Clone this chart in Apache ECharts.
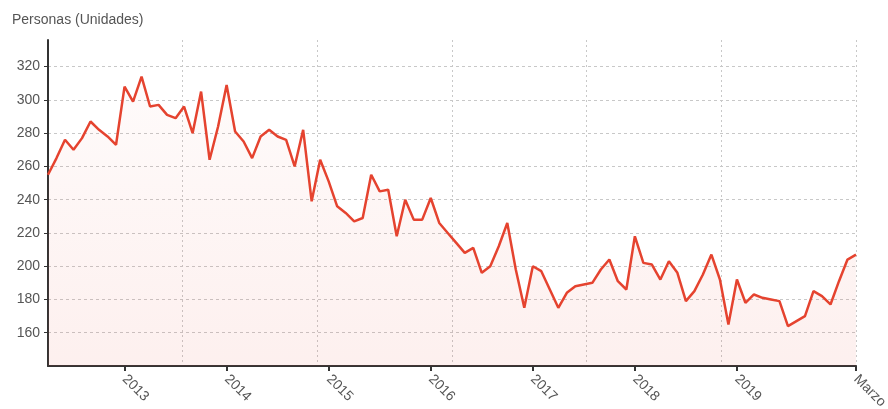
<!DOCTYPE html>
<html>
<head>
<meta charset="utf-8">
<script src="https://cdn.jsdelivr.net/npm/echarts@6/dist/echarts.min.js"></script>
<style>
html,body{margin:0;padding:0;background:#fff;}
#chart{width:888px;height:409px;}
</style>
</head>
<body>
<div id="chart"></div>
<script>
// Monthly series: April 2012 .. March 2020
const startYear = 2012;
const startMonth = 4; // April
const values = [
  255, 265, 276, 270, 277, 287, 282, 278, 273, 308, 299, 314,
  296, 297, 291, 289, 296, 280, 305, 264, 284, 309, 281, 275,
  265, 278, 282, 278, 276, 260, 282, 239, 264, 251, 236, 232,
  227, 229, 255, 245, 246, 218, 240, 228, 228, 241, 226, 220,
  214, 208, 211, 196, 200, 212, 226, 198, 175, 200, 197, 186,
  175, 184, 188, 189, 190, 198, 204, 191, 186, 218, 202, 201,
  192, 203, 196, 179, 185, 195, 207, 192, 165, 192, 178, 183,
  181, 180, 179, 164, 167, 170, 185, 182, 177, 191, 204, 207
];
const yTickValues = [160, 180, 200, 220, 240, 260, 280, 300, 320];
const yearLabels = ['2013', '2014', '2015', '2016', '2017', '2018', '2019'];
const lastLabel = 'Marzo 2020';
const titleText = 'Personas (Unidades)';

const categories = [];
for (let i = 0; i < values.length; i++) {
  const m = (startMonth - 1 + i) % 12 + 1;
  const y = startYear + Math.floor((startMonth - 1 + i) / 12);
  categories.push(y + '-' + (m < 10 ? '0' + m : '' + m));
}
function showIdx(idx) {
  if (idx === categories.length - 1) return true;
  const c = categories[idx];
  return c.endsWith('-01') && yearLabels.indexOf(c.slice(0, 4)) >= 0;
}

const chart = echarts.init(document.getElementById('chart'));
chart.setOption({
  animation: false,
  backgroundColor: '#fff',
  title: {
    text: titleText,
    left: 7, top: 8,
    textStyle: {fontSize: 14, fontWeight: 'normal', color: '#555', fontFamily: 'Liberation Sans, Arial, sans-serif'}
  },
  grid: {left: 48, right: 32, top: 40, bottom: 43, containLabel: false, outerBoundsMode: 'none'},
  xAxis: [{
    type: 'category',
    data: categories,
    boundaryGap: false,
    axisLine: {show: true, lineStyle: {color: '#333', width: 2}},
    axisTick: {show: true, interval: function (idx) { return showIdx(idx); }, length: 5, lineStyle: {color: '#333', width: 2}},
    axisLabel: {
      interval: function (idx) { return showIdx(idx); },
      hideOverlap: false,
      showMaxLabel: true,
      rotate: -45,
      margin: 11,
      color: '#555',
      fontSize: 14,
      fontFamily: 'Liberation Sans, Arial, sans-serif',
      formatter: function (v, idx) {
        if (idx === categories.length - 1) return lastLabel;
        return v.slice(0, 4);
      }
    },
    splitLine: {show: false}
  }, {
    type: 'value',
    min: 0, max: 6, interval: 1,
    position: 'bottom',
    axisLine: {show: false},
    axisTick: {show: false},
    axisLabel: {show: false},
    splitLine: {show: true, lineStyle: {color: '#c8c8c8', type: [2, 3], width: 1}}
  }],
  yAxis: {
    type: 'value',
    min: 140, max: 336, interval: 20,
    axisLine: {show: true, lineStyle: {color: '#333', width: 2}},
    axisTick: {show: true, length: 4, lineStyle: {color: '#333'}},
    axisLabel: {
      showMinLabel: false, showMaxLabel: false,
      color: '#555', fontSize: 14, margin: 8,
      fontFamily: 'Liberation Sans, Arial, sans-serif',
      formatter: function (v) { return yTickValues.indexOf(v) >= 0 ? String(v) : ''; }
    },
    splitLine: {show: true, showMinLine: false, showMaxLine: false, lineStyle: {color: '#c8c8c8', type: [3, 3], width: 1}}
  },
  series: [{
    type: 'line',
    data: values,
    xAxisIndex: 0,
    showSymbol: false,
    symbol: 'none',
    lineStyle: {color: '#e5432f', width: 2.5},
    areaStyle: {
      origin: 'start',
      color: new echarts.graphic.LinearGradient(0, 0, 0, 1, [
        {offset: 0, color: 'rgba(231,76,60,0.03)'},
        {offset: 1, color: 'rgba(231,76,60,0.12)'}
      ])
    }
  }]
});
</script>
</body>
</html>
